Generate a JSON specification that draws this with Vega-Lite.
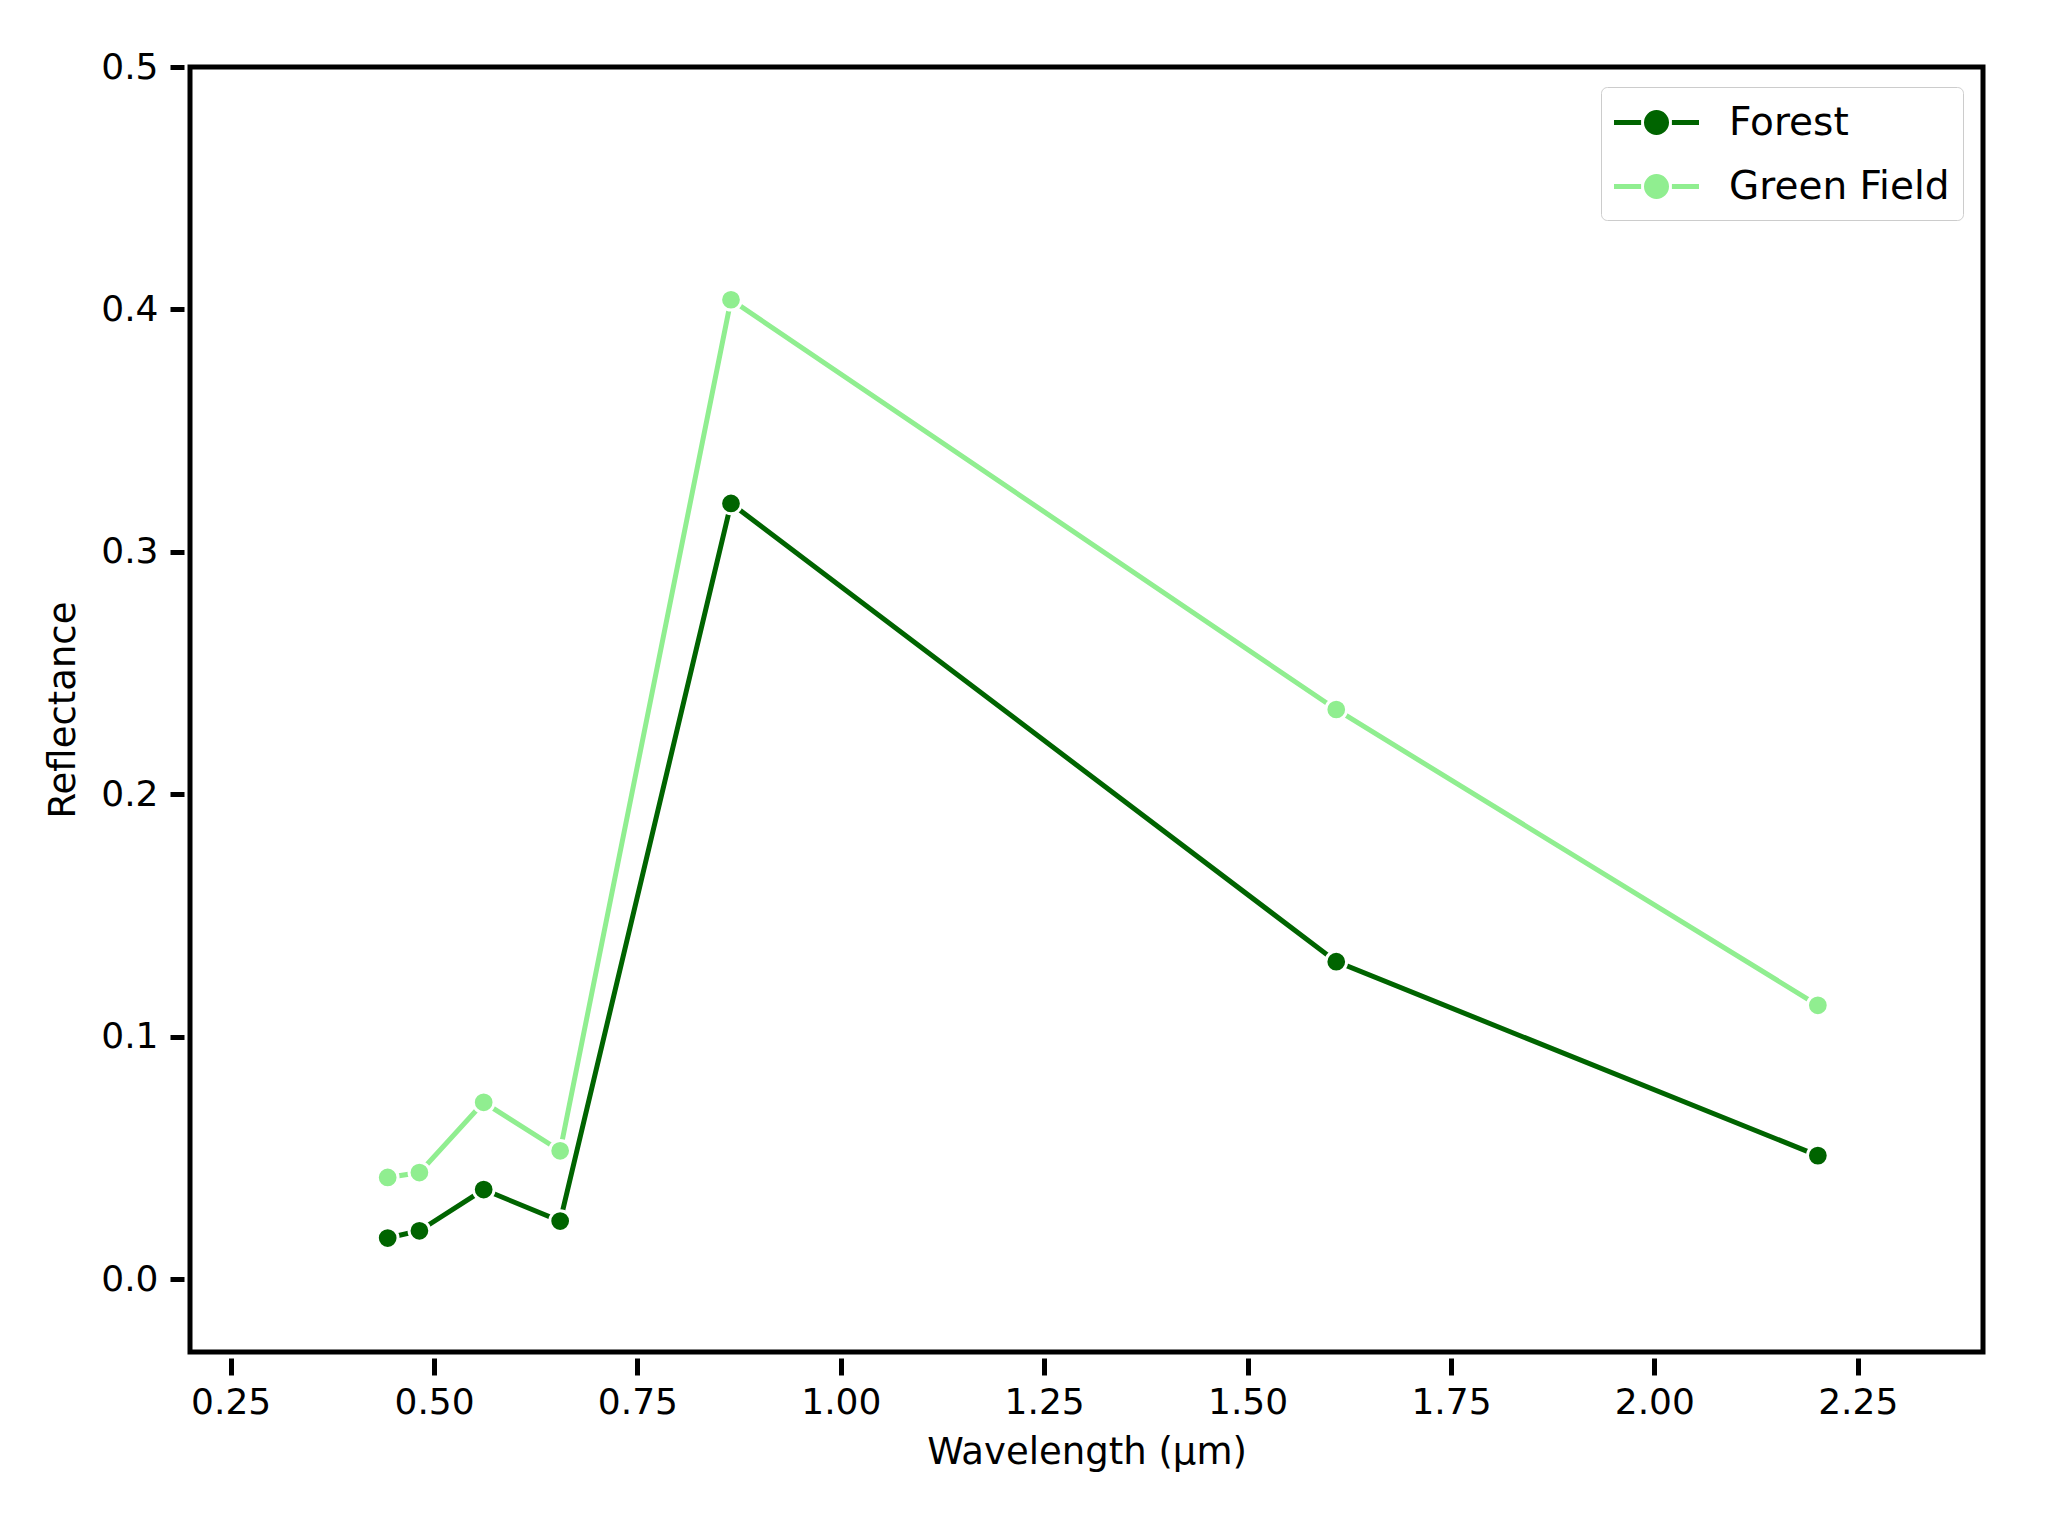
{
  "$schema": "https://vega.github.io/schema/vega-lite/v6.json",
  "autosize": {"type": "none"},
  "padding": {"left": 190, "top": 67, "right": 65, "bottom": 184},
  "width": 1793,
  "height": 1285,
  "background": "#ffffff",
  "config": {
    "font": "DejaVu Sans",
    "view": {"stroke": "#000000", "strokeWidth": 5},
    "axis": {
      "domain": false,
      "grid": false,
      "tickColor": "#000000",
      "tickWidth": 5,
      "labelColor": "#000000",
      "titleColor": "#000000",
      "labelFont": "DejaVu Sans",
      "titleFont": "DejaVu Sans",
      "labelFontSize": 36,
      "titleFontSize": 37,
      "titleFontWeight": "normal"
    }
  },
  "data": {
    "values": [
      {"wavelength": 0.443, "reflectance": 0.017, "series": "Forest"},
      {"wavelength": 0.482, "reflectance": 0.020, "series": "Forest"},
      {"wavelength": 0.561, "reflectance": 0.037, "series": "Forest"},
      {"wavelength": 0.655, "reflectance": 0.024, "series": "Forest"},
      {"wavelength": 0.865, "reflectance": 0.320, "series": "Forest"},
      {"wavelength": 1.609, "reflectance": 0.131, "series": "Forest"},
      {"wavelength": 2.201, "reflectance": 0.051, "series": "Forest"},
      {"wavelength": 0.443, "reflectance": 0.042, "series": "Green Field"},
      {"wavelength": 0.482, "reflectance": 0.044, "series": "Green Field"},
      {"wavelength": 0.561, "reflectance": 0.073, "series": "Green Field"},
      {"wavelength": 0.655, "reflectance": 0.053, "series": "Green Field"},
      {"wavelength": 0.865, "reflectance": 0.404, "series": "Green Field"},
      {"wavelength": 1.609, "reflectance": 0.235, "series": "Green Field"},
      {"wavelength": 2.201, "reflectance": 0.113, "series": "Green Field"}
    ]
  },
  "encoding": {
    "x": {
      "field": "wavelength",
      "type": "quantitative",
      "scale": {"domain": [0.2, 2.404], "nice": false, "zero": false},
      "axis": {
        "title": "Wavelength (μm)",
        "values": [0.25, 0.5, 0.75, 1.0, 1.25, 1.5, 1.75, 2.0, 2.25],
        "format": ".2f",
        "offset": 6,
        "tickSize": 17,
        "labelPadding": 10,
        "titlePadding": 14
      }
    },
    "y": {
      "field": "reflectance",
      "type": "quantitative",
      "scale": {"domain": [-0.03, 0.5], "nice": false, "zero": false},
      "axis": {
        "title": "Reflectance",
        "values": [0, 0.1, 0.2, 0.3, 0.4, 0.5],
        "format": ".1f",
        "offset": 6,
        "tickSize": 14,
        "labelPadding": 12,
        "titlePadding": 18
      }
    }
  },
  "layer": [
    {
      "mark": {"type": "line", "strokeWidth": 5},
      "encoding": {
        "stroke": {
          "field": "series",
          "type": "nominal",
          "scale": {"domain": ["Forest", "Green Field"], "range": ["#006400", "#90ee90"]},
          "legend": {
            "title": null,
            "orient": "top-right",
            "offset": 20,
            "padding": 13,
            "strokeColor": "#cccccc",
            "fillColor": "#ffffff",
            "cornerRadius": 6,
            "symbolType": "M-2.125,0H-0.77M0.77,0H2.125M0.5,0A0.5,0.5,0,1,1,-0.5,0A0.5,0.5,0,1,1,0.5,0Z",
            "symbolSize": 1600,
            "symbolStrokeWidth": 5,
            "labelFontSize": 39,
            "labelFont": "DejaVu Sans",
            "labelColor": "#000000",
            "labelOffset": 70,
            "labelLimit": 0,
            "rowPadding": 21,
            "encode": {
              "symbols": {"update": {"x": {"value": 42.5}, "fill": {"scale": "stroke", "field": "value"}, "opacity": {"value": 1}}}
            }
          }
        },
        "order": {"field": "wavelength", "type": "quantitative"}
      }
    },
    {
      "mark": {"type": "point", "filled": true, "size": 430, "stroke": "#ffffff", "strokeWidth": 3, "opacity": 1},
      "encoding": {
        "fill": {
          "field": "series",
          "type": "nominal",
          "scale": {"domain": ["Forest", "Green Field"], "range": ["#006400", "#90ee90"]},
          "legend": null
        }
      }
    }
  ]
}
